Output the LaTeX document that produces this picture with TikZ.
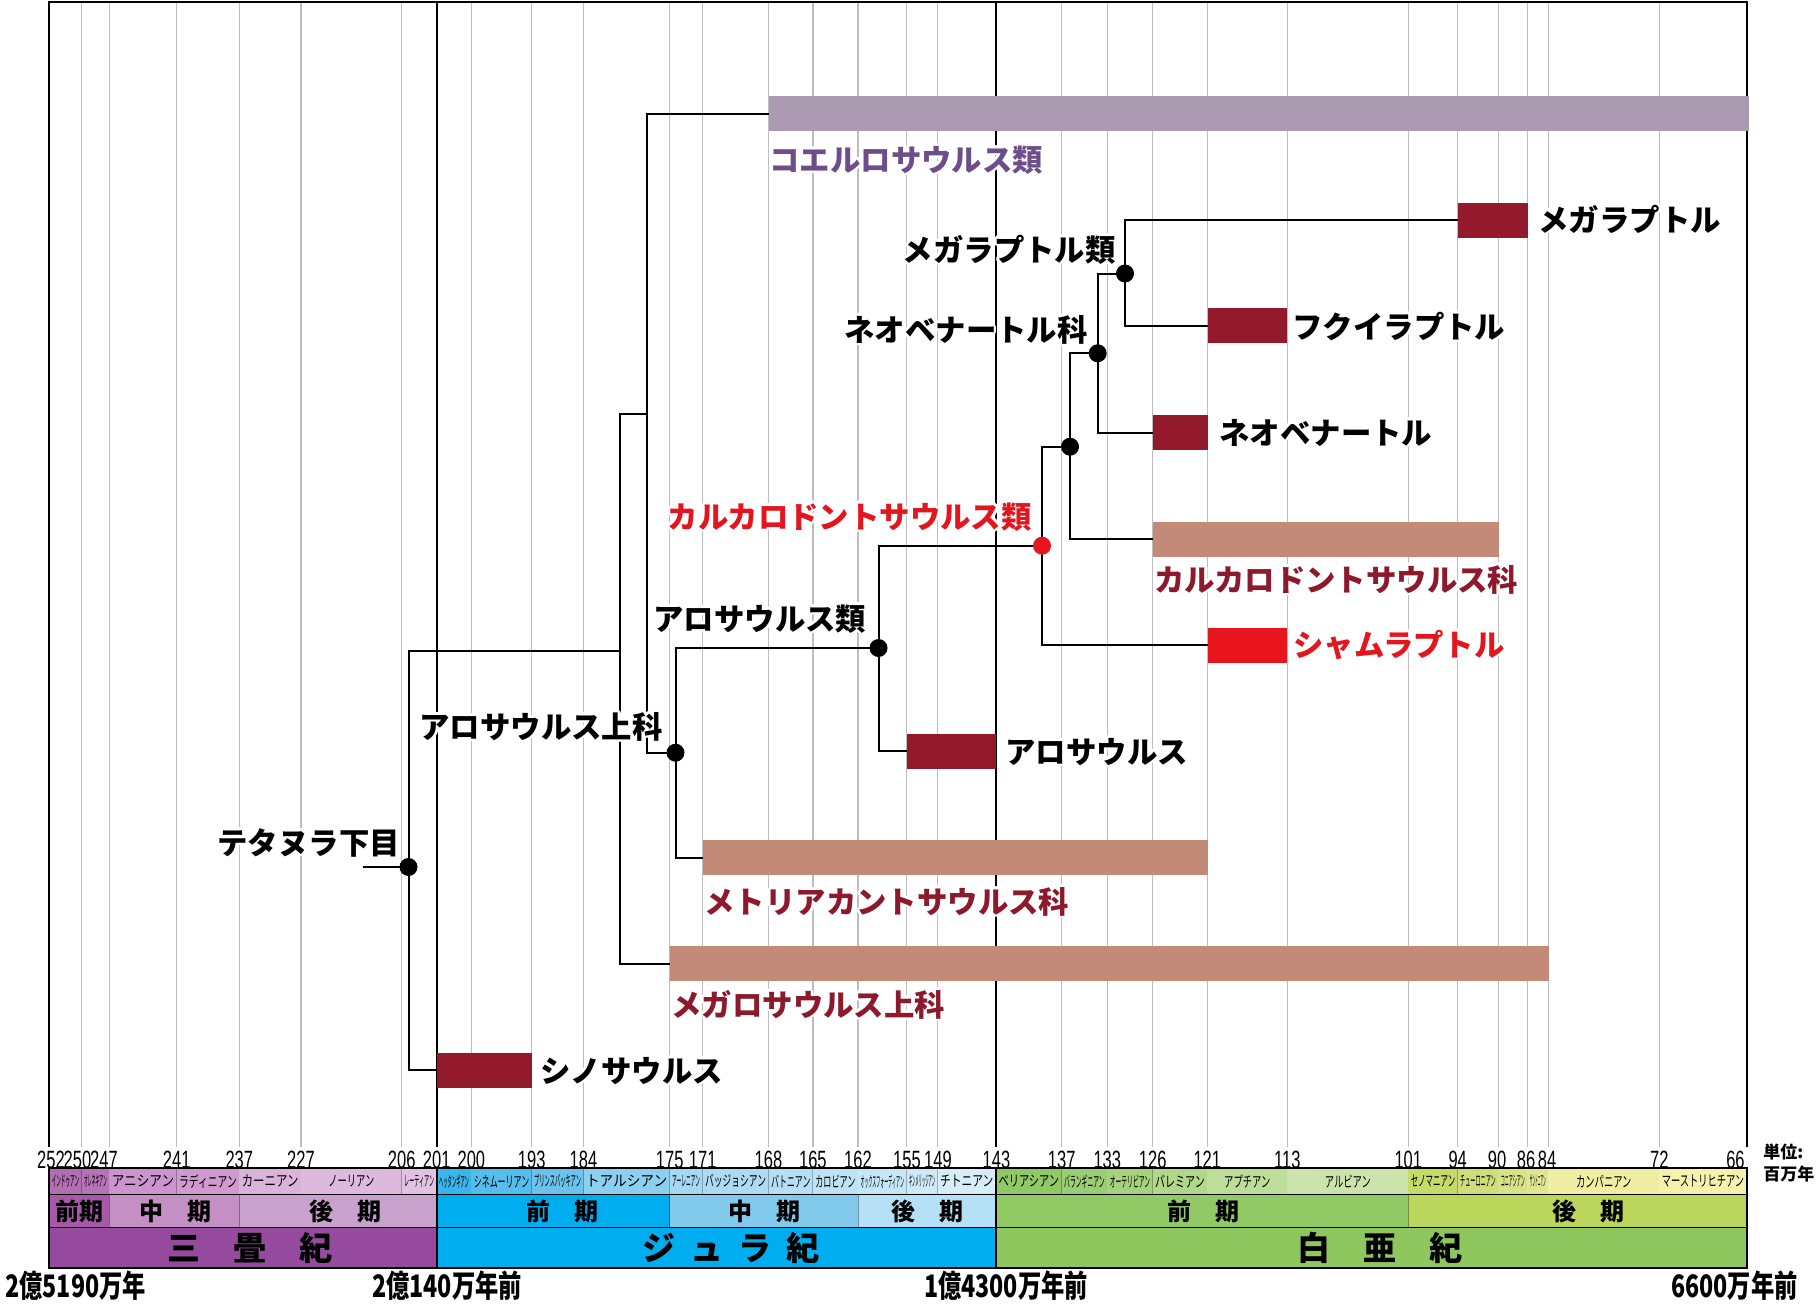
\documentclass[tikz,border=0pt]{standalone}
\usepackage{fontspec}
\usepackage{graphicx}
\usepackage[copies]{contour}
\setmainfont{Noto Sans CJK JP}
\newfontfamily\jp{Noto Sans CJK JP}
\newfontfamily\jpn{Noto Sans CJK JP}[FakeStretch=0.75]
\newfontfamily\numf{Liberation Sans}[FakeStretch=0.66]
\contourlength{1.3pt}
\definecolor{genus}{HTML}{931A2B}
\definecolor{famc}{HTML}{C48A78}
\definecolor{coelc}{HTML}{AC99B2}
\definecolor{siamc}{HTML}{E8141E}
\definecolor{labred}{HTML}{E3161F}
\definecolor{labdark}{HTML}{8C1A2C}
\definecolor{labpur}{HTML}{6D4E8B}
\definecolor{gridc}{HTML}{BDBDBD}
% Triassic
\definecolor{trP}{HTML}{954A9E}\definecolor{trE}{HTML}{A659A7}\definecolor{trM}{HTML}{C38FC4}\definecolor{trL}{HTML}{C9A1CD}
\definecolor{sInd}{HTML}{B16EB1}\definecolor{sOle}{HTML}{B574B5}\definecolor{sAni}{HTML}{CC94CC}\definecolor{sLad}{HTML}{D09AD0}
\definecolor{sCar}{HTML}{D9B3DA}\definecolor{sNor}{HTML}{DDB9DE}\definecolor{sRha}{HTML}{E2C2E3}
% Jurassic
\definecolor{juP}{HTML}{00ADEE}\definecolor{juE}{HTML}{00ADEE}\definecolor{juM}{HTML}{82CAEC}\definecolor{juL}{HTML}{B6E0F5}
\definecolor{sHet}{HTML}{3AB4EA}\definecolor{sSin}{HTML}{55BDEB}\definecolor{sPli}{HTML}{6AC3EC}\definecolor{sToa}{HTML}{8CCFF0}
\definecolor{sAal}{HTML}{A5D8F3}\definecolor{sBaj}{HTML}{ACDBF3}\definecolor{sBat}{HTML}{B4DFF4}\definecolor{sCal}{HTML}{BEE3F5}
\definecolor{sOxf}{HTML}{C6E7F7}\definecolor{sKim}{HTML}{CEEAF8}\definecolor{sTit}{HTML}{D7EEF9}
% Cretaceous
\definecolor{crP}{HTML}{8DC75E}\definecolor{crE}{HTML}{91C965}\definecolor{crL}{HTML}{BCD65C}
\definecolor{sBer}{HTML}{90C866}\definecolor{sVal}{HTML}{9BCD72}\definecolor{sHau}{HTML}{A6D27E}\definecolor{sBar}{HTML}{B0D78A}
\definecolor{sApt}{HTML}{BDDD98}\definecolor{sAlb}{HTML}{CCE4AB}\definecolor{sCen}{HTML}{C6DA6A}\definecolor{sTur}{HTML}{CFDE78}
\definecolor{sCon}{HTML}{D8E286}\definecolor{sSan}{HTML}{E0E693}\definecolor{sCam}{HTML}{EFEEA2}\definecolor{sMaa}{HTML}{F5F2AE}

\newlength\stgw
\newcommand\stgfont{\jp\fontsize{7.5pt}{8pt}\selectfont}
\newcommand\stg[2]{%
  \settowidth\stgw{\stgfont #2}%
  \stgw=0.62\stgw
  \ifdim\stgw>\dimexpr(#1pt-5pt)/2\relax \stgw=\dimexpr(#1pt-5pt)/2\relax\fi
  \resizebox{\stgw}{\height}{\stgfont #2}}
\newcommand\mkbar[5]{%
  \pgfmathsetmacro\bw{(#3-#2)*0.5}%
  \node[tbar, fill=#5, minimum width=\bw pt, anchor=west] (#1) at (#2,#4) {};}

\tikzset{
  gridline/.style={gridc, line width=0.7pt},
  periodline/.style={black, line width=1pt},
  tree/.style={black, line width=1pt},
  tbar/.style={rectangle, inner sep=0pt, minimum height=17.5pt, draw=none},
  dot/.style={circle, fill=black, inner sep=0pt, minimum size=9pt},
  lab/.style={inner sep=0pt, font=\jp\bfseries\fontsize{15.2pt}{16pt}\selectfont},
  numl/.style={inner sep=0pt, anchor=base, font=\numf\fontsize{12.5pt}{12.5pt}\selectfont},
  epoch/.style={inner sep=0pt, font=\jp\bfseries\fontsize{12pt}{13pt}\selectfont},
  period/.style={inner sep=0pt, font=\jp\bfseries\fontsize{16.5pt}{17pt}\selectfont},
  bott/.style={inner sep=0pt, anchor=base, font=\jpn\bfseries\fontsize{15.5pt}{16pt}\selectfont},
  stsep/.style={black, opacity=0.25, line width=0.5pt},
  bandline/.style={black, line width=0.8pt},
  frame/.style={black, line width=1pt}
}

\begin{document}
\begin{tikzpicture}[x=0.5pt, y=-0.5pt]
\useasboundingbox (0,0) rectangle (1816,1312);
\fill[white] (0,0) rectangle (1816,1312);

% grid
\foreach \x in {81.7,109.3,176.7,239.3,301,401.7,471.4,531.7,583.5,669.7,702.7,768.5,812.9,858,906.5,937.6,1061.7,1107.3,1152.7,1207.3,1287.3,1408.3,1457.7,1498.3,1527.3,1548.3,1659.3}
  \draw[gridline] (\x,1.7) -- (\x,1147);
\draw[periodline] (436.7,1.7) -- (436.7,1147);
\draw[periodline] (996,1.7) -- (996,1147);
\draw[frame] (49.3,1147) -- (49.3,1.7) -- (1746.7,1.7) -- (1746.7,1147);

% tree junctions
\coordinate (stem) at (363,867);
\coordinate (T) at (408.5,867);
\coordinate (A) at (619.5,651);
\coordinate (B) at (647,414);
\coordinate (AS) at (675.5,752.7);
\coordinate (AL) at (878.5,648);
\coordinate (CA) at (1042,545.7);
\coordinate (CD) at (1070,446.7);
\coordinate (NV) at (1097.7,353.3);
\coordinate (MR) at (1125,273.5);

% bars
\mkbar{coel}{768.5}{1749}{113.8}{coelc}
\mkbar{megr}{1457.5}{1528}{220}{genus}
\mkbar{fuku}{1207.5}{1287}{325.8}{genus}
\mkbar{neov}{1152.7}{1207.5}{432.5}{genus}
\mkbar{carc}{1152.7}{1499}{539}{famc}
\mkbar{siam}{1207.5}{1287}{645}{siamc}
\mkbar{allo}{906.5}{996}{751}{genus}
\mkbar{metr}{702.5}{1207.5}{857.5}{famc}
\mkbar{mgls}{669.7}{1549}{963.6}{famc}
\mkbar{sino}{436.7}{532}{1070}{genus}

% connectors
\draw[tree] (stem) -- (T);
\draw[tree] (T) |- (A);
\draw[tree] (T) |- (sino.west);
\draw[tree] (A) |- (B);
\draw[tree] (A) |- (mgls.west);
\draw[tree] (B) |- (coel.west);
\draw[tree] (B) |- (AS);
\draw[tree] (AS) |- (AL);
\draw[tree] (AS) |- (metr.west);
\draw[tree] (AL) |- (CA);
\draw[tree] (AL) |- (allo.west);
\draw[tree] (CA) |- (CD);
\draw[tree] (CA) |- (siam.west);
\draw[tree] (CD) |- (NV);
\draw[tree] (CD) |- (carc.west);
\draw[tree] (NV) |- (MR);
\draw[tree] (NV) |- (neov.west);
\draw[tree] (MR) |- (megr.west);
\draw[tree] (MR) |- (fuku.west);

% dots
\node[dot] (dT) at (T) {};
\node[dot] (dAS) at (AS) {};
\node[dot] (dAL) at (AL) {};
\node[dot, fill=siamc] (dCA) at (CA) {};
\node[dot] (dCD) at (CD) {};
\node[dot] (dNV) at (NV) {};
\node[dot] (dMR) at (MR) {};

% labels
\node[lab, anchor=base west, text=labpur] (lcoel) at (769,171) {\contour{white}{コエルロサウルス類}};
\node[lab, anchor=base west] (lmegr) at (1538,231) {\contour{white}{メガラプトル}};
\node[lab, anchor=base east] (lMR) at (1116,261) {\contour{white}{メガラプトル類}};
\node[lab, anchor=base west] (lfuku) at (1292,338) {\contour{white}{フクイラプトル}};
\node[lab, anchor=base east] (lNV) at (1088,341) {\contour{white}{ネオベナートル科}};
\node[lab, anchor=base west] (lneov) at (1219,444) {\contour{white}{ネオベナートル}};
\node[lab, anchor=base east, text=labred] (lCA) at (1032,528) {\contour{white}{カルカロドントサウルス類}};
\node[lab, anchor=base west, text=labdark] (lcarc) at (1154,591) {\contour{white}{カルカロドントサウルス科}};
\node[lab, anchor=base west, text=labred] (lsiam) at (1293,656) {\contour{white}{シャムラプトル}};
\node[lab, anchor=base west] (lAL) at (653,630) {\contour{white}{アロサウルス類}};
\node[lab, anchor=base west] (lallo) at (1005,763) {\contour{white}{アロサウルス}};
\node[lab, anchor=base west] (lAS) at (419,738) {\contour{white}{アロサウルス上科}};
\node[lab, anchor=base west, text=labdark] (lmetr) at (704,913) {\contour{white}{メトリアカントサウルス科}};
\node[lab, anchor=base west, text=labdark] (lmgls) at (671,1016) {\contour{white}{メガロサウルス上科}};
\node[lab, anchor=base west] (lT) at (217,854) {\contour{white}{テタヌラ下目}};
\node[lab, anchor=base west] (lsino) at (540,1082) {\contour{white}{シノサウルス}};

% ===== time band =====
% stage row
\foreach \xa/\xb/\nm/\cl [count=\i] in {
49.3/81.7/インドゥアン/sInd, 81.7/109.3/オレネキアン/sOle, 109.3/176.7/アニシアン/sAni,
176.7/239.3/ラディニアン/sLad, 239.3/301/カーニアン/sCar, 301/401.7/ノーリアン/sNor,
401.7/436.7/レーティアン/sRha,
436.7/471.4/ヘッタンギアン/sHet, 471.4/531.7/シネムーリアン/sSin, 531.7/583.5/プリンスバッキアン/sPli,
583.5/669.7/トアルシアン/sToa, 669.7/702.7/アーレニアン/sAal, 702.7/768.5/バッジョシアン/sBaj,
768.5/812.9/バトニアン/sBat, 812.9/858/カロビアン/sCal, 858/906.5/オックスフォーディアン/sOxf,
906.5/937.6/キンメリッジアン/sKim, 937.6/996/チトニアン/sTit,
996/1061.7/ベリアシアン/sBer, 1061.7/1107.3/バランギニアン/sVal, 1107.3/1152.7/オーテリビアン/sHau,
1152.7/1207.3/バレミアン/sBar, 1207.3/1287.3/アプチアン/sApt, 1287.3/1408.3/アルビアン/sAlb,
1408.3/1457.7/セノマニアン/sCen, 1457.7/1498.3/チューロニアン/sTur, 1498.3/1527.3/コニアシアン/sCon,
1527.3/1548.3/サントニアン/sSan, 1548.3/1659.3/カンパニアン/sCam, 1659.3/1746.7/マーストリヒチアン/sMaa}
{
  \fill[\cl] (\xa,1168.3) rectangle (\xb,1194.3);
  \pgfmathsetmacro\cw{\xb-\xa}
  \node[inner sep=0pt] (stg\i) at ({(\xa+\xb)/2},1181.3) {\stg{\cw}{\nm}};
  \draw[stsep] (\xb,1168.3) -- (\xb,1194.3);
}

% epoch row
\fill[trE] (49.3,1194.3) rectangle (109.3,1227.3);
\fill[trM] (109.3,1194.3) rectangle (239.3,1227.3);
\fill[trL] (239.3,1194.3) rectangle (436.7,1227.3);
\fill[juE] (436.7,1194.3) rectangle (669.7,1227.3);
\fill[juM] (669.7,1194.3) rectangle (858,1227.3);
\fill[juL] (858,1194.3) rectangle (996,1227.3);
\fill[crE] (996,1194.3) rectangle (1408.3,1227.3);
\fill[crL] (1408.3,1194.3) rectangle (1746.7,1227.3);
\foreach \x in {109.3,239.3,669.7,858,1408.3}
  \draw[stsep, opacity=0.35] (\x,1194.3) -- (\x,1227.3);
\node[epoch] (e1) at (79.3,1211) {前期};
\node[epoch] (e2) at (175,1211) {中　期};
\node[epoch] (e3) at (345,1211) {後　期};
\node[epoch] (e4) at (562,1211) {前　期};
\node[epoch] (e5) at (764,1211) {中　期};
\node[epoch] (e6) at (927,1211) {後　期};
\node[epoch] (e7) at (1203,1211) {前　期};
\node[epoch] (e8) at (1588,1211) {後　期};

% period row
\fill[trP] (49.3,1227.3) rectangle (436.7,1268.3);
\fill[juP] (436.7,1227.3) rectangle (996,1268.3);
\fill[crP] (996,1227.3) rectangle (1746.7,1268.3);
\node[period] (p1) at (250,1248) {三　畳　紀};
\node[period] (p2) at (731,1248) {ジ\hspace{0.45em}ュ\hspace{0.45em}ラ\hspace{0.45em}紀};
\node[period] (p3) at (1380,1248) {白　亜　紀};

% band lines
\draw[bandline] (49.3,1194.3) -- (1746.7,1194.3);
\draw[bandline] (49.3,1227.3) -- (1746.7,1227.3);
\draw[frame] (49.3,1168.3) rectangle (1746.7,1268.3);
\draw[frame] (436.7,1168.3) -- (436.7,1268.3);
\draw[frame] (996,1168.3) -- (996,1268.3);

% numbers
\foreach \x/\t [count=\i] in {51/252, 77.5/250, 104/247, 176.7/241, 239.3/237, 301/227, 401.7/206,
  436.7/201, 471.4/200, 531.7/193, 583.5/184, 669.7/175, 702.7/171, 768.5/168, 812.9/165,
  858/162, 907/155, 938/149, 996.5/143, 1061.7/137, 1107.3/133, 1152.7/126, 1207.3/121,
  1287.3/113, 1408.3/101, 1457.7/94, 1497/90, 1526/86, 1547/84, 1659.3/72}
  \node[numl] (n\i) at (\x,1168) {\t};
\node[numl, anchor=base east] (n66) at (1745,1168) {66};

% unit
\node[inner sep=0pt, anchor=base west, font=\jp\bfseries\fontsize{8.5pt}{9pt}\selectfont] (u1) at (1763,1158) {単位:};
\node[inner sep=0pt, anchor=base west, font=\jp\bfseries\fontsize{8.5pt}{9pt}\selectfont] (u2) at (1763,1180) {百万年};

% bottom labels
\node[bott, anchor=base west] (b1) at (5,1297) {2億5190万年};
\node[bott] (b2) at (447,1297) {2億140万年前};
\node[bott] (b3) at (1006,1297) {1億4300万年前};
\node[bott, anchor=base east] (b4) at (1798,1297) {6600万年前};
\end{tikzpicture}
\end{document}
